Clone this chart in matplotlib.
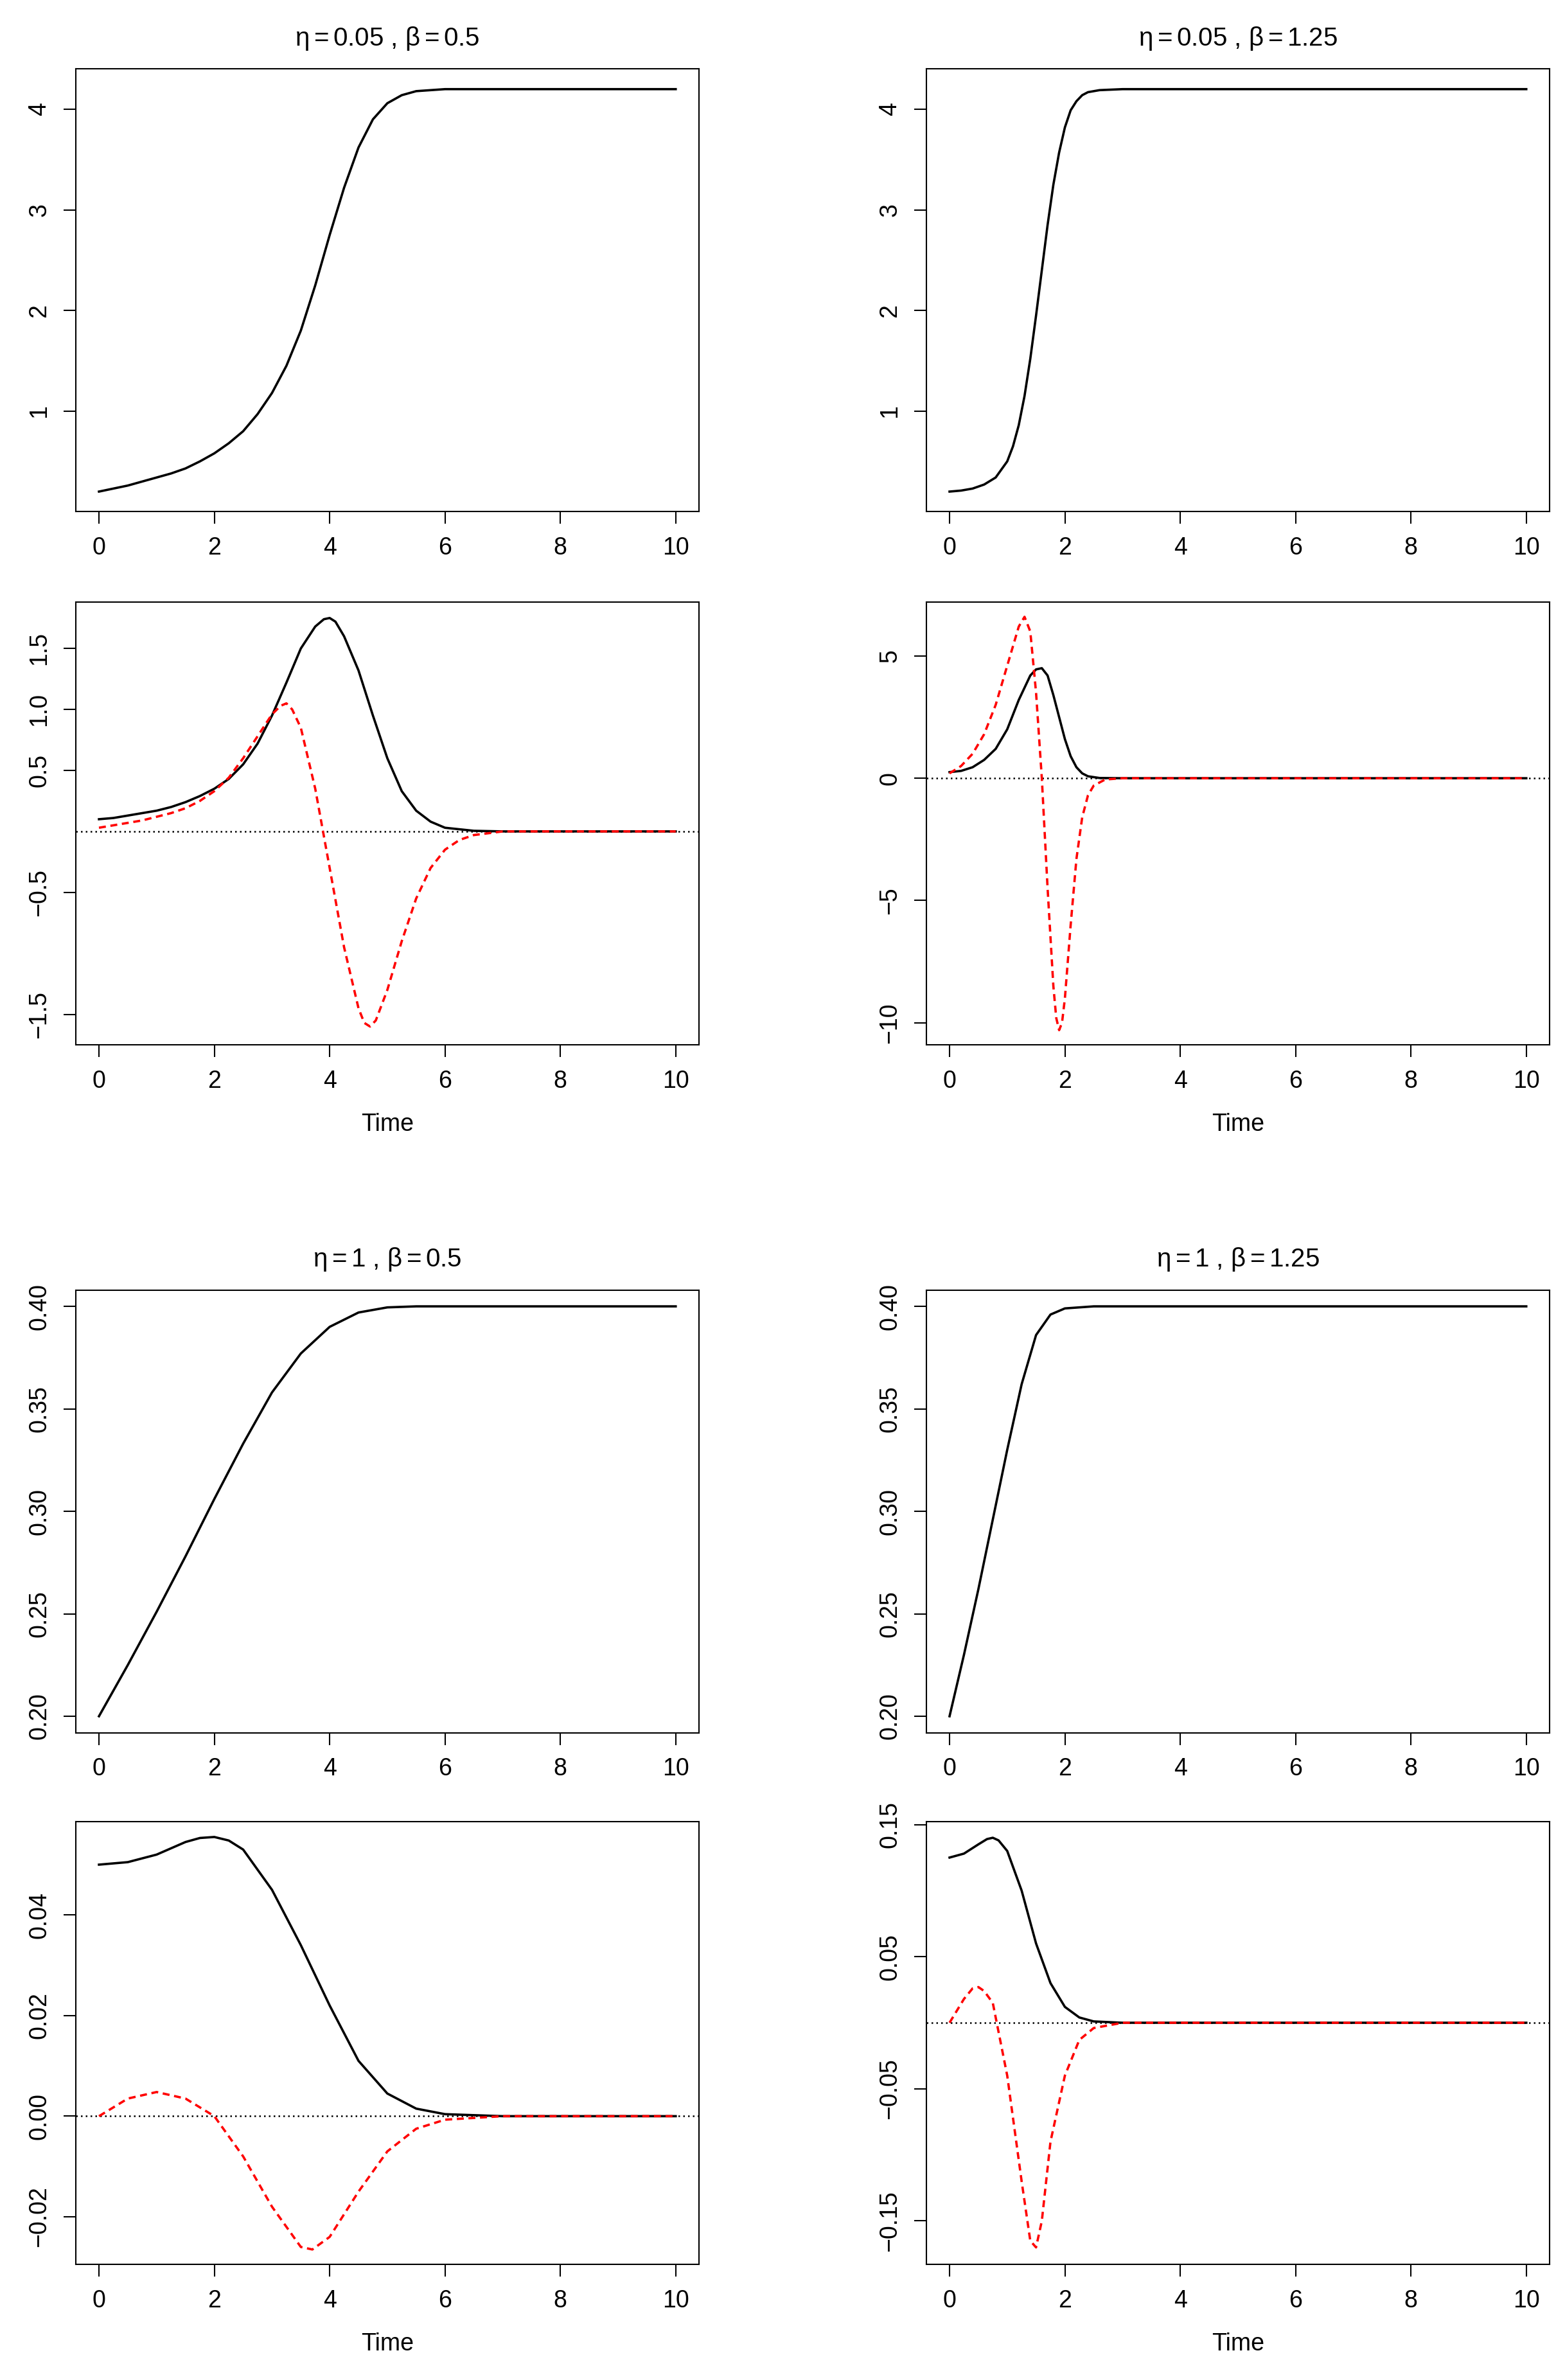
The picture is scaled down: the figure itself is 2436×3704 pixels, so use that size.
import matplotlib
matplotlib.use('Agg')
import matplotlib.pyplot as plt

# eta=0.05, beta=0.5
t1 = [0, .25, .5, .75, 1, 1.25, 1.5, 1.75, 2, 2.25, 2.5, 2.75, 3, 3.25, 3.5, 3.75, 4, 4.25, 4.5, 4.75,
      5, 5.25, 5.5, 5.75, 6, 10]
y1 = [.20, .23, .26, .30, .34, .38, .43, .50, .58, .68, .80, .97, 1.18, 1.45, 1.80, 2.25, 2.75, 3.22, 3.62,
      3.90, 4.06, 4.14, 4.18, 4.19, 4.20, 4.20]
td1 = [0, .25, .5, .75, 1, 1.25, 1.5, 1.75, 2, 2.25, 2.5, 2.75, 3, 3.25, 3.5, 3.75, 3.9, 4, 4.1, 4.25, 4.5,
       4.75, 5, 5.25, 5.5, 5.75, 6, 6.5, 7, 10]
d1 = [.10, .11, .13, .15, .17, .20, .24, .29, .35, .43, .55, .72, .95, 1.22, 1.50, 1.68, 1.74, 1.75, 1.72,
      1.60, 1.32, .95, .60, .33, .17, .08, .03, .005, 0, 0]
tr1 = [0, .25, .5, .75, 1, 1.25, 1.5, 1.75, 2, 2.25, 2.5, 2.75, 3, 3.15, 3.25, 3.35, 3.5, 3.75, 4, 4.25,
       4.5, 4.6, 4.7, 4.8, 5, 5.25, 5.5, 5.75, 6, 6.25, 6.5, 7, 10]
r1 = [.03, .05, .07, .09, .12, .15, .19, .25, .33, .44, .60, .78, .96, 1.03, 1.05, 1.0, .85, .35, -.30,
      -.95, -1.45, -1.57, -1.6, -1.55, -1.3, -.9, -.55, -.3, -.15, -.07, -.03, 0, 0]

# eta=0.05, beta=1.25
t2 = [0, .2, .4, .6, .8, 1.0, 1.1, 1.2, 1.3, 1.4, 1.5, 1.6, 1.7, 1.8, 1.9, 2.0, 2.1, 2.2, 2.3, 2.4, 2.6, 3, 10]
y2 = [.20, .21, .23, .27, .34, .50, .65, .86, 1.15, 1.52, 1.95, 2.40, 2.85, 3.25, 3.57, 3.82, 3.99, 4.08,
      4.14, 4.17, 4.19, 4.20, 4.20]
td2 = [0, .2, .4, .6, .8, 1.0, 1.2, 1.4, 1.5, 1.6, 1.7, 1.8, 1.9, 2.0, 2.1, 2.2, 2.3, 2.4, 2.6, 3, 10]
d2 = [.25, .3, .45, .75, 1.2, 2.0, 3.2, 4.2, 4.45, 4.5, 4.2, 3.4, 2.5, 1.6, .9, .45, .2, .08, .01, 0, 0]
tr2 = [0, .2, .4, .6, .8, 1.0, 1.2, 1.3, 1.4, 1.5, 1.6, 1.7, 1.8, 1.85, 1.9, 1.95, 2.0, 2.1, 2.2, 2.3, 2.4,
       2.5, 2.7, 3, 10]
r2 = [.2, .5, 1.0, 1.8, 3.0, 4.6, 6.2, 6.6, 6.0, 3.5, 0, -4.5, -8.5, -9.8, -10.3, -10.0, -9.0, -6.0, -3.3,
      -1.6, -.7, -.3, -.05, 0, 0]

# eta=1, beta=0.5
t3 = [0, .5, 1, 1.5, 2, 2.5, 3, 3.5, 4, 4.5, 5, 5.5, 6, 10]
y3 = [.200, .225, .251, .278, .306, .333, .358, .377, .390, .397, .3995, .400, .400, .400]
td3 = [0, .5, 1, 1.5, 1.75, 2, 2.25, 2.5, 3, 3.5, 4, 4.5, 5, 5.5, 6, 7, 10]
d3 = [.050, .0505, .052, .0545, .0553, .0555, .0548, .053, .045, .034, .022, .011, .0045, .0015, .0004, 0, 0]
tr3 = [0, .5, 1, 1.5, 2, 2.5, 3, 3.5, 3.7, 4, 4.5, 5, 5.5, 6, 7, 10]
r3 = [0, .0035, .0048, .0035, 0, -.008, -.018, -.026, -.0265, -.024, -.015, -.007, -.0025, -.0007, 0, 0]

# eta=1, beta=1.25
t4 = [0, .25, .5, .75, 1, 1.25, 1.5, 1.75, 2, 2.5, 10]
y4 = [.200, .230, .262, .296, .330, .362, .386, .396, .399, .400, .400]
td4 = [0, .25, .5, .65, .75, .85, 1, 1.25, 1.5, 1.75, 2, 2.25, 2.5, 3, 10]
d4 = [.125, .128, .135, .139, .140, .138, .130, .100, .060, .030, .012, .004, .001, 0, 0]
tr4 = [0, .25, .4, .5, .6, .75, 1, 1.25, 1.4, 1.5, 1.6, 1.75, 2, 2.25, 2.5, 3, 10]
r4 = [0, .018, .026, .027, .024, .015, -.04, -.12, -.165, -.17, -.15, -.09, -.04, -.013, -.004, 0, 0]

titles = [r'$\eta = 0.05$ , $\beta = 0.5$', r'$\eta = 0.05$ , $\beta = 1.25$',
          r'$\eta = 1$ , $\beta = 0.5$', r'$\eta = 1$ , $\beta = 1.25$']

plt.rcParams['font.family'] = ['Liberation Sans', 'DejaVu Sans']
plt.rcParams['mathtext.fontset'] = 'custom'
plt.rcParams['mathtext.rm'] = 'Liberation Sans'
plt.rcParams['mathtext.it'] = 'Liberation Sans'
FS = 27
LW = 2.6

fig = plt.figure(figsize=(24.36, 37.04), dpi=100)
lefts = [0.0485, 0.592]
W = 0.398
H = 0.186
bottoms = [(0.785, 0.561), (0.272, 0.0485)]


def style(ax, yticks, ylim, xlabel=False):
    ax.set_xlim(-0.4, 10.4)
    ax.set_xticks([0, 2, 4, 6, 8, 10])
    ax.set_yticks(yticks)
    ax.set_ylim(ylim)
    ax.tick_params(labelsize=FS, direction='out', length=14, width=1.5, pad=14)
    for s in ax.spines.values():
        s.set_linewidth(1.5)
    if xlabel:
        ax.set_xlabel('Time', fontsize=FS, labelpad=22)


panels = [
    (t1, y1, td1, d1, tr1, r1, [1, 2, 3, 4], (0.0, 4.4), [-1.5, -0.5, 0.5, 1.0, 1.5], (-1.75, 1.88)),
    (t2, y2, td2, d2, tr2, r2, [1, 2, 3, 4], (0.0, 4.4), [-10, -5, 0, 5], (-10.9, 7.2)),
    (t3, y3, td3, d3, tr3, r3, [0.20, 0.25, 0.30, 0.35, 0.40], (0.192, 0.408),
     [-0.02, 0.00, 0.02, 0.04], (-0.0295, 0.0585)),
    (t4, y4, td4, d4, tr4, r4, [0.20, 0.25, 0.30, 0.35, 0.40], (0.192, 0.408),
     [-0.15, -0.05, 0.05, 0.15], (-0.183, 0.152)),
]

for i, (t, y, td, d, tr, r, yt, yl, dyt, dyl) in enumerate(panels):
    left = lefts[i % 2]
    btop, bbot = bottoms[i // 2]
    ax = fig.add_axes([left, btop, W, H])
    ax.plot(t, y, color='black', lw=LW)
    style(ax, yt, yl)
    ax.set_yticklabels([f'{v:g}' if i < 2 else f'{v:.2f}' for v in yt])
    for lab in ax.get_yticklabels():
        lab.set_rotation(90)
        lab.set_va('center')
    ax.set_title(titles[i], fontsize=FS + 2, pad=26)

    ax2 = fig.add_axes([left, bbot, W, H])
    ax2.axhline(0, color='black', lw=1.8, ls=(0, (1, 2)))
    ax2.plot(td, d, color='black', lw=LW)
    ax2.plot(tr, r, color='red', lw=LW, ls=(0, (3, 2)))
    style(ax2, dyt, dyl, xlabel=True)
    fmt = '{:.1f}' if i == 0 else ('{:g}' if i == 1 else '{:.2f}')
    ax2.set_yticklabels([fmt.format(v).replace('-', '\u2212') for v in dyt])
    for lab in ax2.get_yticklabels():
        lab.set_rotation(90)
        lab.set_va('center')

fig.savefig('out.png', dpi=100)
